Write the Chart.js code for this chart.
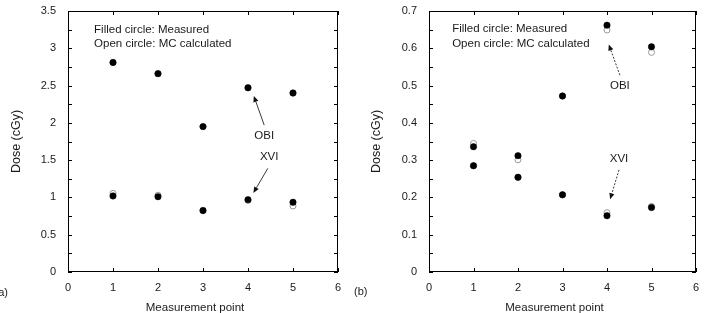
<!DOCTYPE html>
<html>
<head>
<meta charset="utf-8">
<script src="https://cdn.jsdelivr.net/npm/chart.js@4.4.0/dist/chart.umd.min.js"></script>
<style>
  body { margin: 0; background: #fff; }
  .panel { position: absolute; top: 0; width: 352px; height: 313px; }
</style>
</head>
<body>
<div class="panel" style="left:0"><canvas id="chartA" width="352" height="313"></canvas></div>
<div class="panel" style="left:352px"><canvas id="chartB" width="352" height="313"></canvas></div>
<script>
// measurement points (x)
const points = [1, 2, 3, 4, 5];

// panel (a)
const obiMeasA = [2.81, 2.66, 1.95, 2.47, 2.40];
const obiCalcA = [2.81, 2.66, 1.95, 2.47, 2.40];
const xviMeasA = [1.02, 1.01, 0.825, 0.97, 0.935];
const xviCalcA = [1.055, 1.03, 0.82, 0.96, 0.885];

// panel (b)
const obiMeasB = [0.285, 0.254, 0.472, 0.662, 0.604];
const obiCalcB = [0.285, 0.254, 0.472, 0.649, 0.589];
const xviMeasB = [0.336, 0.312, 0.207, 0.151, 0.173];
const xviCalcB = [0.345, 0.301, 0.207, 0.159, 0.176];

const FONT = 'Arial, "Liberation Sans", sans-serif';
const INK = '#1a1a1a';

function toXY(ys) {
  return points.map((x, i) => ({ x: x, y: ys[i] }));
}

// frame + inner tick marks on all four sides, plus the text/arrow notes
const framePlugin = {
  id: 'frame',
  beforeDatasetsDraw(chart) {
    const { ctx, chartArea: a, scales } = chart;
    const tl = 4;
    ctx.save();
    ctx.strokeStyle = '#000';
    ctx.lineWidth = 1;
    ctx.strokeRect(a.left + 0.5, a.top + 0.5, a.right - a.left - 1, a.bottom - a.top - 1);
    ctx.beginPath();
    scales.x.ticks.forEach(t => {
      const px = Math.round(scales.x.getPixelForValue(t.value)) + 0.5;
      ctx.moveTo(px, a.bottom); ctx.lineTo(px, a.bottom - tl);
      ctx.moveTo(px, a.top); ctx.lineTo(px, a.top + tl);
    });
    const yt = scales.y.ticks;
    const yvals = [];
    yt.forEach((t, i) => {
      yvals.push(t.value);
      if (i < yt.length - 1) yvals.push((t.value + yt[i + 1].value) / 2);
    });
    yvals.forEach(v => {
      const py = Math.round(scales.y.getPixelForValue(v)) + 0.5;
      ctx.moveTo(a.left, py); ctx.lineTo(a.left + tl, py);
      ctx.moveTo(a.right, py); ctx.lineTo(a.right - tl, py);
    });
    ctx.stroke();
    ctx.restore();
  },
  afterDraw(chart, args, opts) {
    const { ctx, scales } = chart;
    const X = v => scales.x.getPixelForValue(v);
    const Y = v => scales.y.getPixelForValue(v);
    ctx.save();
    ctx.fillStyle = INK;
    ctx.font = '11.5px ' + FONT;
    ctx.textBaseline = 'middle';
    (opts.notes || []).forEach(n => {
      ctx.textAlign = n.align || 'left';
      ctx.fillText(n.text, X(n.x), Y(n.y));
    });
    (opts.arrows || []).forEach(ar => {
      const x0 = X(ar.from[0]), y0 = Y(ar.from[1]);
      const x1 = X(ar.to[0]), y1 = Y(ar.to[1]);
      const ang = Math.atan2(y1 - y0, x1 - x0);
      const hl = 6, hw = 2.6;
      ctx.strokeStyle = '#222';
      ctx.lineWidth = 0.9;
      ctx.setLineDash(ar.dash ? [2, 1.5] : []);
      ctx.beginPath();
      ctx.moveTo(x0, y0);
      ctx.lineTo(x1 - hl * Math.cos(ang), y1 - hl * Math.sin(ang));
      ctx.stroke();
      ctx.setLineDash([]);
      ctx.beginPath();
      ctx.moveTo(x1, y1);
      ctx.lineTo(x1 - hl * Math.cos(ang) + hw * Math.sin(ang), y1 - hl * Math.sin(ang) - hw * Math.cos(ang));
      ctx.lineTo(x1 - hl * Math.cos(ang) - hw * Math.sin(ang), y1 - hl * Math.sin(ang) + hw * Math.cos(ang));
      ctx.closePath();
      ctx.fillStyle = '#111';
      ctx.fill();
    });
    if (opts.panel) {
      ctx.fillStyle = INK;
      ctx.font = '11px ' + FONT;
      ctx.textAlign = opts.panel.align;
      ctx.fillText(opts.panel.text, opts.panel.px, opts.panel.py);
    }
    ctx.restore();
  }
};

function filled(data) {
  return {
    data: toXY(data), showLine: false, order: 0,
    pointRadius: 3.2, pointBackgroundColor: '#000', pointBorderColor: '#000', pointBorderWidth: 0.5
  };
}
function open(data) {
  return {
    data: toXY(data), showLine: false, order: 1,
    pointRadius: 3, pointBackgroundColor: '#fff', pointBorderColor: '#999', pointBorderWidth: 1
  };
}

function makeChart(id, cfg) {
  return new Chart(document.getElementById(id), {
    type: 'scatter',
    data: {
      datasets: [
        filled(cfg.obiMeas), filled(cfg.xviMeas),
        open(cfg.obiCalc), open(cfg.xviCalc)
      ]
    },
    options: {
      responsive: false,
      animation: false,
      layout: { padding: { left: 0, right: cfg.padRight, top: 11, bottom: 0 } },
      plugins: {
        legend: { display: false },
        tooltip: { enabled: false },
        frame: cfg.frame
      },
      scales: {
        x: {
          type: 'linear', min: 0, max: 6,
          grid: { display: false, drawTicks: false },
          border: { display: false },
          ticks: { stepSize: 1, padding: 9, color: INK, font: { family: FONT, size: 11 } },
          // trailing spaces nudge the title a little left of centre, as in the original
          title: { display: true, text: 'Measurement point     ', color: INK, padding: { top: 0, bottom: -1.5 }, font: { family: FONT, size: 11.5 } },
          afterFit: s => { s.height = 41; s.paddingLeft = 0; s.paddingRight = 0; }
        },
        y: {
          type: 'linear', min: 0, max: cfg.yMax,
          grid: { display: false, drawTicks: false },
          border: { display: false },
          ticks: {
            stepSize: cfg.yStep, padding: 12, color: INK, font: { family: FONT, size: 11 },
            callback: v => String(Math.round(v * 100) / 100)
          },
          title: { display: true, text: 'Dose (cGy)', color: INK, padding: { top: cfg.yTitlePad, bottom: 0 }, font: { family: FONT, size: 12.5 } },
          afterFit: s => { s.width = cfg.yWidth; s.paddingTop = 0; s.paddingBottom = 0; }
        }
      }
    },
    plugins: [framePlugin]
  });
}

makeChart('chartA', {
  obiMeas: obiMeasA, obiCalc: obiCalcA, xviMeas: xviMeasA, xviCalc: xviCalcA,
  yMax: 3.5, yStep: 0.5, yWidth: 68, padRight: 14, yTitlePad: 9,
  frame: {
    notes: [
      { text: 'Filled circle: Measured', x: 0.58, y: 3.245 },
      { text: 'Open circle: MC calculated', x: 0.58, y: 3.06 },
      { text: 'OBI', x: 4.36, y: 1.82, align: 'center' },
      { text: 'XVI', x: 4.47, y: 1.55, align: 'center' }
    ],
    arrows: [
      { from: [4.36, 1.97], to: [4.13, 2.36] },
      { from: [4.44, 1.39], to: [4.12, 1.06] }
    ],
    panel: { text: '(a)', px: 8, py: 293, align: 'right' }
  }
});

makeChart('chartB', {
  obiMeas: obiMeasB, obiCalc: obiCalcB, xviMeas: xviMeasB, xviCalc: xviCalcB,
  yMax: 0.7, yStep: 0.1, yWidth: 77, padRight: 8, yTitlePad: 17,
  frame: {
    notes: [
      { text: 'Filled circle: Measured', x: 0.52, y: 0.651 },
      { text: 'Open circle: MC calculated', x: 0.52, y: 0.613 },
      { text: 'OBI', x: 4.29, y: 0.50, align: 'center' },
      { text: 'XVI', x: 4.27, y: 0.303, align: 'center' }
    ],
    arrows: [
      { from: [4.29, 0.528], to: [4.04, 0.61], dash: true },
      { from: [4.27, 0.274], to: [4.07, 0.195], dash: true }
    ],
    panel: { text: '(b)', px: 2, py: 292, align: 'left' }
  }
});
</script>
</body>
</html>
